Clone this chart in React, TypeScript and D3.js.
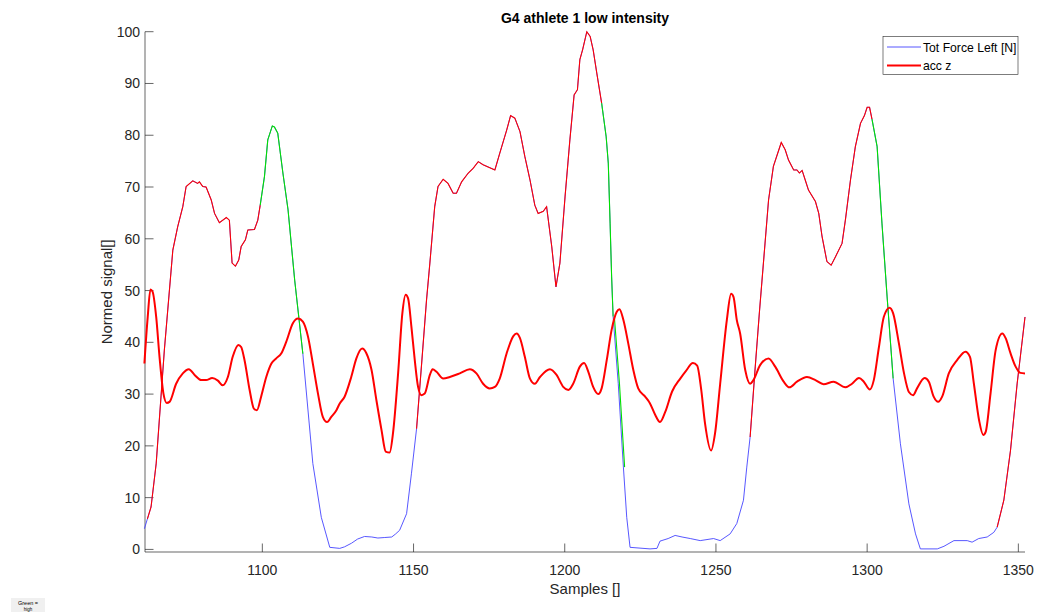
import React from "react";
import * as d3 from "d3";

// Tot Force Left [N] (normed), [sample, value]
const forceSamples = [1061.0,1063.2,1064.9,1067.6,1070.4,1072.0,1073.7,1074.8,1077.0,1078.6,1079.2,1080.3,1081.4,1083.1,1084.2,1085.8,1088.1,1089.1,1090.0,1091.1,1092.2,1093.0,1094.4,1095.2,1097.4,1098.5,1099.3,1100.7,1101.8,1103.3,1104.0,1105.1,1106.8,1108.5,1110.7,1113.4,1116.7,1119.5,1122.3,1125.6,1127.2,1129.5,1131.5,1133.8,1136.2,1138.2,1140.5,1142.8,1144.1,1145.4,1147.7,1149.3,1151.0,1152.6,1154.3,1155.4,1157.0,1158.1,1159.8,1161.4,1163.1,1164.2,1165.9,1168.1,1169.7,1171.4,1173.0,1176.9,1178.5,1180.8,1182.1,1183.5,1185.2,1186.8,1188.5,1190.1,1191.2,1192.9,1194.0,1195.7,1197.1,1198.4,1200.1,1201.7,1203.1,1204.2,1205.0,1205.9,1207.3,1208.4,1209.4,1210.6,1212.2,1213.7,1214.4,1215.0,1215.5,1216.0,1217.7,1219.4,1220.5,1221.6,1228.2,1230.5,1231.5,1234.2,1236.5,1238.8,1241.5,1244.8,1249.2,1251.4,1254.7,1256.9,1259.1,1260.2,1261.3,1263.0,1264.4,1265.7,1267.4,1269.0,1271.6,1272.9,1274.0,1275.7,1276.8,1277.6,1278.5,1279.5,1280.6,1282.9,1284.0,1285.1,1286.7,1288.1,1289.5,1291.7,1292.8,1294.5,1296.1,1297.8,1299.1,1300.0,1300.8,1301.6,1303.3,1304.9,1306.6,1308.6,1311.0,1313.8,1316.0,1317.6,1323.2,1325.4,1328.7,1333.1,1334.7,1336.9,1339.7,1341.9,1343.0,1345.2,1347.4,1349.6,1351.3,1352.2];
const forceValues = [4.0,8.2,16.6,38.5,57.8,62.3,66.2,70.1,71.2,70.7,71.0,70.1,70.0,67.5,64.9,63.1,64.1,63.6,55.3,54.7,55.9,58.5,59.8,61.7,61.8,63.6,66.5,72.0,79.1,81.8,81.6,80.4,72.7,65.6,52.0,37.8,16.6,6.2,0.4,0.2,0.5,1.2,2.0,2.5,2.4,2.2,2.3,2.4,3.0,3.7,6.9,14.6,23.3,35.3,48.2,55.3,66.2,70.1,71.5,70.7,68.8,68.8,71.0,72.7,73.6,74.9,74.3,73.3,76.5,81.0,83.8,83.3,80.7,75.9,71.4,66.5,64.9,65.3,66.2,58.5,50.7,55.3,68.1,79.1,87.8,88.8,94.6,96.5,100.0,99.1,96.5,92.0,86.2,79.7,74.6,63.0,52.7,45.0,32.0,15.9,6.2,0.4,0.1,0.2,1.6,2.1,2.7,2.4,2.1,1.7,2.1,1.7,3.0,5.0,9.5,15.9,21.7,35.3,46.0,55.3,67.5,74.0,78.6,77.2,75.2,73.3,73.3,72.7,73.2,71.4,69.4,67.2,64.9,60.4,55.6,54.9,56.5,59.1,63.6,71.4,77.8,82.3,83.8,85.4,85.4,83.1,77.8,63.0,48.8,33.0,20.4,8.8,3.0,0.1,0.1,0.6,1.7,1.7,1.4,2.1,2.4,3.3,4.3,9.5,19.1,32.0,40.4,44.9];

// acc z (normed)
const accSamples = [1061.0,1062.1,1063.0,1063.7,1064.9,1066.0,1067.3,1068.4,1069.3,1071.5,1073.7,1075.7,1077.6,1079.8,1081.4,1083.4,1085.3,1086.9,1088.6,1090.2,1092.1,1093.0,1094.1,1095.8,1097.2,1098.2,1099.6,1101.3,1103.0,1104.6,1106.3,1107.9,1110.1,1111.8,1113.4,1115.1,1116.7,1118.4,1120.0,1121.4,1122.8,1124.5,1125.6,1127.2,1129.4,1131.1,1133.0,1134.4,1136.1,1137.7,1139.4,1140.8,1142.1,1143.2,1144.9,1146.3,1147.4,1148.2,1149.3,1150.4,1151.5,1152.6,1153.7,1155.4,1156.3,1157.6,1159.8,1162.0,1165.3,1168.6,1170.8,1173.0,1175.2,1176.9,1178.5,1180.8,1183.0,1184.1,1185.2,1186.8,1188.5,1190.1,1191.8,1195.1,1197.3,1199.5,1201.2,1202.8,1205.0,1206.4,1207.8,1209.4,1211.1,1212.2,1213.9,1215.5,1217.2,1218.1,1219.4,1221.0,1222.7,1224.3,1226.6,1228.2,1229.9,1231.5,1233.2,1235.5,1238.2,1240.1,1242.4,1243.8,1245.1,1246.4,1248.4,1249.7,1251.4,1253.6,1255.0,1255.8,1256.9,1258.0,1259.7,1261.3,1262.4,1264.6,1267.4,1269.6,1272.4,1274.3,1276.8,1280.1,1282.9,1285.6,1288.9,1292.8,1295.0,1297.3,1298.9,1300.9,1302.2,1303.9,1305.5,1307.4,1308.6,1310.5,1312.2,1313.8,1315.2,1316.5,1319.0,1320.4,1322.0,1323.5,1324.8,1327.0,1329.8,1332.5,1334.0,1335.3,1337.0,1338.4,1339.2,1340.8,1342.5,1344.7,1345.8,1347.4,1349.1,1350.7,1352.2];
const accValues = [35.9,44.9,50.2,49.8,44.9,37.2,30.1,28.3,28.5,32.0,34.0,34.8,33.7,32.7,32.7,33.1,32.6,31.7,33.3,37.2,39.5,39.1,36.6,30.8,27.2,26.9,29.5,33.3,35.9,36.9,37.9,40.1,43.7,44.6,44.0,41.1,35.9,30.1,25.6,24.6,25.6,26.9,28.2,29.5,33.3,36.9,38.8,37.9,34.7,28.9,23.1,18.9,18.7,22.4,34.0,45.6,49.2,48.5,43.0,36.6,31.4,29.8,30.1,33.7,34.8,34.3,33.0,33.3,34.0,34.8,34.0,32.0,31.1,31.4,33.0,37.9,41.2,41.7,40.8,37.2,33.0,32.0,33.3,34.8,33.7,31.4,30.8,32.0,35.3,36.0,34.3,31.4,30.0,31.1,36.6,42.4,45.9,46.4,44.3,39.8,34.6,31.1,29.5,28.2,26.0,24.6,26.5,30.5,33.0,34.5,36.0,35.5,31.0,24.3,19.1,22.4,32.0,44.3,49.4,48.8,44.3,41.7,34.6,32.0,32.7,35.6,36.9,35.3,32.4,31.3,32.4,33.3,32.7,31.9,32.4,31.3,32.0,33.1,32.4,30.9,32.7,39.1,44.9,46.7,45.6,39.8,34.0,30.4,29.8,31.1,33.1,32.4,29.5,28.5,29.5,34.0,36.6,38.2,37.2,32.0,25.0,22.1,22.7,30.1,38.5,41.7,40.8,37.9,35.3,34.1,34.0];

// phase segments of the force signal: [start sample, end sample]
const redPhases = [[1062.0, 1099.3], [1151.0, 1212.2], [1261.3, 1301.6], [1343.0, 1352.2]];
const greenPhases = [[1099.3, 1113.4], [1212.2, 1216.0], [1301.6, 1308.6]];
const greenTail = [[1216.0, 1219.4]];

const xTicks = [1100, 1150, 1200, 1250, 1300, 1350];
const yTicks = [0, 10, 20, 30, 40, 50, 60, 70, 80, 90, 100];

const titleText = "G4 athlete 1 low intensity";
const xLabel = "Samples []";
const yLabel = "Normed signal[]";
const legendLabels = ["Tot Force Left [N]", "acc z"];

export default function App() {
  const W = 1040, H = 612;
  const L = 145, R = 1025, T = 31.7, B = 552;
  const x = d3.scaleLinear().domain([1061.2, 1352.2]).range([L, R]);
  const y = d3.scaleLinear().domain([-0.5, 100]).range([B, T]);
  const font = "'Liberation Sans', Arial, Helvetica, sans-serif";

  const force = forceSamples.map((s, i) => [s, forceValues[i]] as [number, number]);
  const acc = accSamples.map((s, i) => [s, accValues[i]] as [number, number]);

  const interp = (s: number) => {
    const i = d3.bisector((d: [number, number]) => d[0]).right(force, s);
    if (i <= 0) return force[0][1];
    if (i >= force.length) return force[force.length - 1][1];
    const a = force[i - 1], b = force[i];
    return a[1] + ((s - a[0]) / (b[0] - a[0])) * (b[1] - a[1]);
  };
  const segment = (s0: number, s1: number) => {
    const pts: [number, number][] = [[s0, interp(s0)]];
    force.forEach((d) => { if (d[0] > s0 && d[0] < s1) pts.push(d); });
    pts.push([s1, interp(s1)]);
    return pts;
  };

  const lineLin = d3.line<[number, number]>().x((d) => x(d[0])).y((d) => y(d[1]));
  const lineSmooth = d3.line<[number, number]>().x((d) => x(d[0])).y((d) => y(d[1])).curve(d3.curveMonotoneX);

  const axisColor = "#262626";
  return (
    <svg width={W} height={H} style={{ position: "absolute", left: 0, top: 0, background: "#fff" }} fontFamily={font}>
      <rect x={0} y={0} width={W} height={H} fill="#fff" />
      {/* axes */}
      <line x1={L} x2={R} y1={B} y2={B} stroke={axisColor} strokeWidth={0.7} />
      <line x1={L} x2={L} y1={T} y2={B} stroke={axisColor} strokeWidth={0.7} />
      {xTicks.map((t) => (
        <g key={"x" + t}>
          <line x1={x(t)} x2={x(t)} y1={B} y2={B - 8.5} stroke={axisColor} strokeWidth={0.7} />
          <text x={x(t)} y={B + 23} textAnchor="middle" fontSize={14} fill={axisColor}>{t}</text>
        </g>
      ))}
      {yTicks.map((t) => (
        <g key={"y" + t}>
          <line x1={L} x2={L + 8.5} y1={y(t)} y2={y(t)} stroke={axisColor} strokeWidth={0.7} />
          <text x={L - 5} y={y(t) + 5} textAnchor="end" fontSize={14} fill={axisColor}>{t}</text>
        </g>
      ))}
      {/* data */}
      <path d={lineLin(force) || ""} fill="none" stroke="#4444ff" strokeWidth={0.9} />
      {redPhases.map((p, i) => (
        <path key={"r" + i} d={lineLin(segment(p[0], p[1])) || ""} fill="none" stroke="#ff0000" strokeWidth={1.1} />
      ))}
      {greenPhases.map((p, i) => (
        <path key={"g" + i} d={lineLin(segment(p[0], p[1])) || ""} fill="none" stroke="#00e000" strokeWidth={1.1} />
      ))}
      {greenTail.map((p, i) => (
        <path key={"gt" + i} d={lineLin(segment(p[0], p[1]).map((d) => [d[0] + 0.4, d[1]] as [number, number])) || ""} fill="none" stroke="#00e000" strokeWidth={1.1} />
      ))}
      <path d={lineSmooth(acc) || ""} fill="none" stroke="#ff0000" strokeWidth={2} />
      {/* labels */}
      <text x={(L + R) / 2} y={23} textAnchor="middle" fontSize={14} fontWeight="bold" fill="#000">{titleText}</text>
      <text x={(L + R) / 2} y={594} textAnchor="middle" fontSize={15} fill={axisColor}>{xLabel}</text>
      <text transform={`translate(112,${(T + B) / 2}) rotate(-90)`} textAnchor="middle" fontSize={15} fill={axisColor}>{yLabel}</text>
      {/* legend */}
      <rect x={883} y={36.5} width={135} height={38} fill="#fff" stroke="#262626" strokeWidth={0.6} />
      <line x1={887} x2={921} y1={47} y2={47} stroke="#4444ff" strokeWidth={0.9} />
      <text x={923} y={51.5} fontSize={12.2} fill="#000">{legendLabels[0]}</text>
      <line x1={887} x2={921} y1={65.5} y2={65.5} stroke="#ff0000" strokeWidth={2} />
      <text x={923} y={70} fontSize={12.2} fill="#000">{legendLabels[1]}</text>
      {/* annotation */}
      <rect x={11} y={598} width={34} height={14} fill="#f0f0f0" />
      <text x={28} y={604.5} textAnchor="middle" fontSize={5.5} fill="#000">Green =</text>
      <text x={28} y={610.5} textAnchor="middle" fontSize={4.5} fill="#000">high</text>
    </svg>
  );
}
